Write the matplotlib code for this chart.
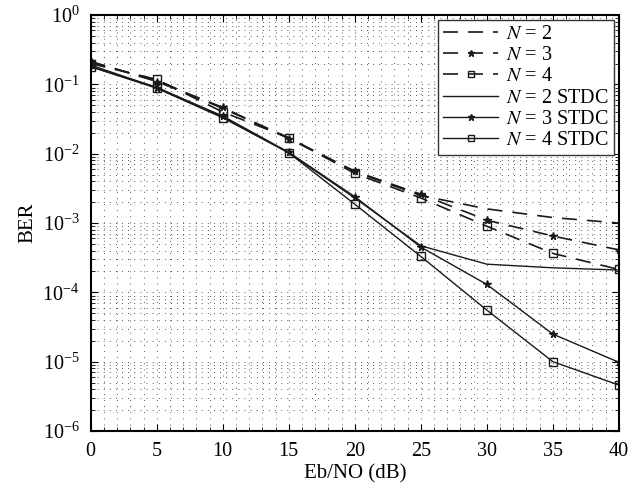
import matplotlib
matplotlib.use("Agg")
import matplotlib.pyplot as plt
from matplotlib.ticker import LogLocator, MultipleLocator, NullFormatter

plt.rcParams['font.family'] = ['Liberation Serif', 'DejaVu Serif']
plt.rcParams['mathtext.fontset'] = 'stix'

snr = [0, 5, 10, 15, 20, 25, 30, 35, 40]
ber_n2 = [0.21, 0.115, 0.045, 0.017, 0.0055, 0.0025, 0.0016, 0.0012, 0.001]
ber_n3 = [0.215, 0.11, 0.0466, 0.0165, 0.0056, 0.0026, 0.0011, 0.00065, 0.00041]
ber_n4 = [0.2, 0.118, 0.040, 0.017, 0.0052, 0.0023, 0.0009, 0.000365, 0.000214]
ber_n2s = [0.18, 0.091, 0.034, 0.0103, 0.0023, 0.00047, 0.000255, 0.000226, 0.00021]
ber_n3s = [0.19, 0.09, 0.035, 0.0105, 0.0024, 0.00045, 0.00013, 2.5e-5, 9.8e-6]
ber_n4s = [0.18, 0.088, 0.033, 0.0103, 0.00187, 0.00033, 5.55e-5, 1.0e-5, 4.6e-6]

labels = ['$N$ = 2', '$N$ = 3', '$N$ = 4', '$N$ = 2 STDC', '$N$ = 3 STDC', '$N$ = 4 STDC']

fig = plt.figure(figsize=(6.4, 4.87), dpi=100)
ax = fig.add_axes([0.1417, 0.115, 0.967 - 0.1417, 0.969 - 0.115])

c = '#1a1a1a'
dash = (0, (9, 6))
lw = 1.2
ax.plot(snr, ber_n2, color=c, lw=lw, linestyle=dash, label=labels[0])
ax.plot(snr, ber_n3, color=c, lw=lw, linestyle=dash, marker='*', ms=5.5, mfc=c, mec=c, label=labels[1])
ax.plot(snr, ber_n4, color=c, lw=lw, linestyle=dash, marker='s', ms=5.5, mfc='none', mec=c, label=labels[2])
ax.plot(snr, ber_n2s, color=c, lw=1.0, linestyle='-', label=labels[3])
ax.plot(snr, ber_n3s, color=c, lw=1.0, linestyle='-', marker='*', ms=5.5, mfc=c, mec=c, label=labels[4])
ax.plot(snr, ber_n4s, color=c, lw=1.0, linestyle='-', marker='s', ms=5.5, mfc='none', mec=c, label=labels[5])

ax.set_yscale('log')
ax.set_xlim(0, 40)
ax.set_ylim(1e-6, 1)
ax.xaxis.set_major_locator(MultipleLocator(5))
ax.xaxis.set_minor_locator(MultipleLocator(1))
ax.yaxis.set_major_locator(LogLocator(base=10, numticks=10))
ax.yaxis.set_minor_locator(LogLocator(base=10, subs=range(2, 10), numticks=100))
ax.yaxis.set_minor_formatter(NullFormatter())

ax.grid(which='both', color='0.2', linestyle=(0, (0.8, 5.5)), lw=0.7)
ax.tick_params(which='both', direction='in', top=True, right=True, labelsize=14.5)
ax.tick_params(which='major', length=5, width=0.8, pad=8)
ax.tick_params(which='minor', length=3, width=0.6)
for s in ax.spines.values():
    s.set_linewidth(1.5)

ax.set_xlabel('Eb/NO (dB)', fontsize=15, labelpad=2)
ax.set_ylabel('BER', fontsize=15, labelpad=4)

leg = ax.legend(loc='upper right', bbox_to_anchor=(0.99, 0.988), borderaxespad=0,
                fontsize=14.5, fancybox=False, framealpha=1, edgecolor='#333333',
                handlelength=2.7, handletextpad=0.4, labelspacing=0.1, borderpad=0.25,
                numpoints=1, markerscale=0.85)
leg.get_frame().set_linewidth(1.0)

fig.savefig('out.png', dpi=100)
